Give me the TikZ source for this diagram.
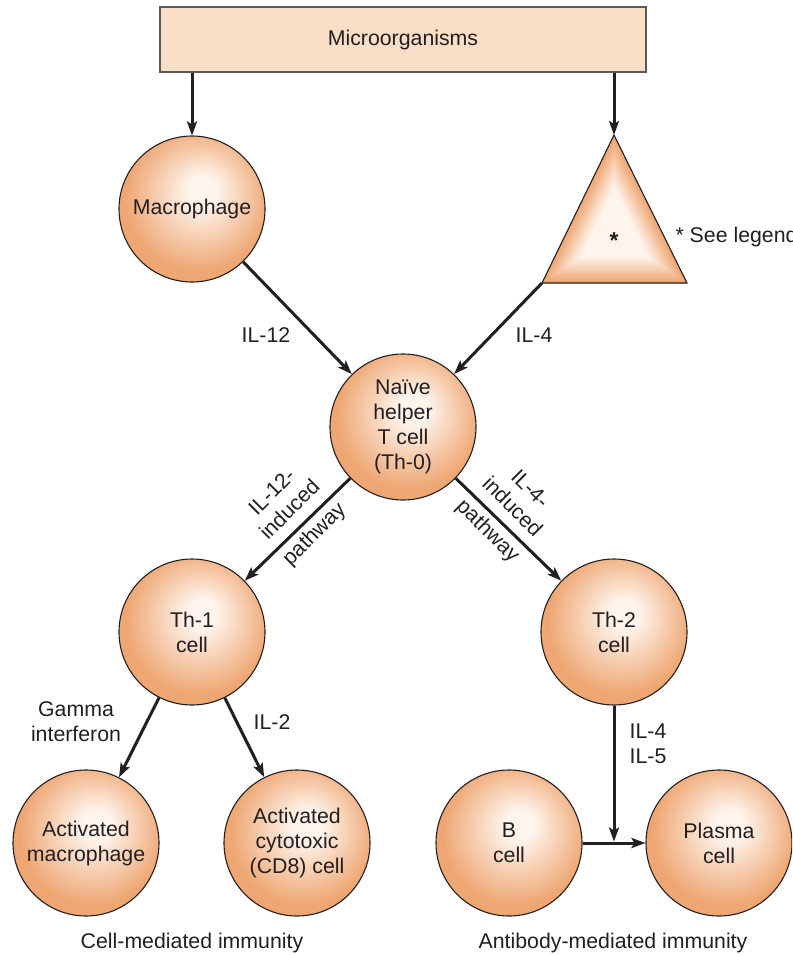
\documentclass[tikz,border=0pt]{standalone}
\usepackage{fontspec}
\setmainfont{Liberation Sans}
\usetikzlibrary{arrows.meta,calc}
\definecolor{cellrim}{RGB}{238,166,114}
\definecolor{cellcore}{RGB}{254,244,236}
\definecolor{boxfill}{RGB}{250,222,198}
\definecolor{boxedge}{RGB}{95,88,88}
\definecolor{ink}{RGB}{35,31,32}
\pgfdeclareradialshading{cellglow}{\pgfpoint{4bp}{7bp}}{color(0bp)=(cellcore); color(5bp)=(cellcore); color(25bp)=(cellrim); color(50bp)=(cellrim)}

\begin{document}
\begin{tikzpicture}[x=1pt, y=-1pt, >={Stealth[length=14pt,width=10pt,inset=3pt]},
    every node/.style={font=\fontsize{21.3}{25}\selectfont, text=ink},
    cell/.style={circle, draw=ink, line width=1.1pt, shade, shading=cellglow,
        minimum size=146pt, inner sep=0pt, align=center},
    flow/.style={draw=ink, line width=3pt, ->},
    pathlbl/.style={align=center, inner sep=1pt}]
    \useasboundingbox (0,0) rectangle (792,955);
    \clip (0,0) rectangle (792,955);

    \node[draw=boxedge, line width=1.5pt, fill=boxfill, minimum width=486pt,
        minimum height=65pt] (micro) at (403,39.5) {Microorganisms};

    \node[cell] (mac) at (192,209) {Macrophage};
    \node[cell] (naive) at (403,427) {Naïve\\helper\\T cell\\(Th-0)};
    \node[cell] (th1) at (192,632) {Th-1\\cell};
    \node[cell] (th2) at (614,632) {Th-2\\cell};
    \node[cell] (actmac) at (86,843) {Activated\\macrophage};
    \node[cell] (cd8) at (297,843) {Activated\\cytotoxic\\(CD8) cell};
    \node[cell] (bcell) at (509,843) {B\\cell};
    \node[cell] (plasma) at (719,843) {Plasma\\cell};

    \coordinate (triT) at (614,135);
    \coordinate (triL) at (542,283);
    \coordinate (triR) at (687,283);
    \coordinate (triC) at (614.3,233.7);
    \foreach \k in {0,...,20} {
        \pgfmathsetmacro\s{1-\k*0.026}
        \pgfmathtruncatemacro\m{100-\k*5}
        \fill[cellrim!\m!cellcore] ($(triC)!\s!(triT)$) -- ($(triC)!\s!(triL)$)
            -- ($(triC)!\s!(triR)$) -- cycle;
    }
    \draw[ink, line width=1.1pt, line join=miter] (triT) -- (triL) -- (triR) -- cycle;
    \node[anchor=base, font=\bfseries\fontsize{23}{25}\selectfont] (star) at (614,248) {*};
    \node[anchor=base west] (legnote) at (672,242) {* See legend};

    \draw[flow] (micro.south -| mac) -- (mac);
    \draw[flow] (micro.south -| triT) -- (triT);
    \draw[flow] (mac) -- (naive);
    \draw[flow] (triL) -- (naive);
    \draw[flow] (naive) -- (th1);
    \draw[flow] (naive) -- (th2);
    \draw[flow] (th1) -- (actmac);
    \draw[flow] (th1) -- (cd8);
    \draw[flow] (bcell) -- (plasma);
    \coordinate (meet) at (th2 |- bcell);
    \draw[flow, shorten >=1.5pt] (th2) -- (meet);

    \node (il12) at (266,335) {IL-12};
    \node (il4) at (534,335) {IL-4};
    \node[pathlbl, rotate=45] (path12) at (294,514) {IL-12-\\induced\\[9pt]pathway};
    \node[pathlbl, rotate=-45] (path4) at (508,511) {IL-4-\\induced\\[9pt]pathway};
    \node[align=center] (gamma) at (76,722) {Gamma\\interferon};
    \node (il2) at (272,722) {IL-2};
    \node[align=left] (il45) at (648,744) {IL-4\\IL-5};
    \node (cellimm) at (192,943) {Cell-mediated immunity};
    \node (abimm) at (613,943) {Antibody-mediated immunity};
\end{tikzpicture}
\end{document}
